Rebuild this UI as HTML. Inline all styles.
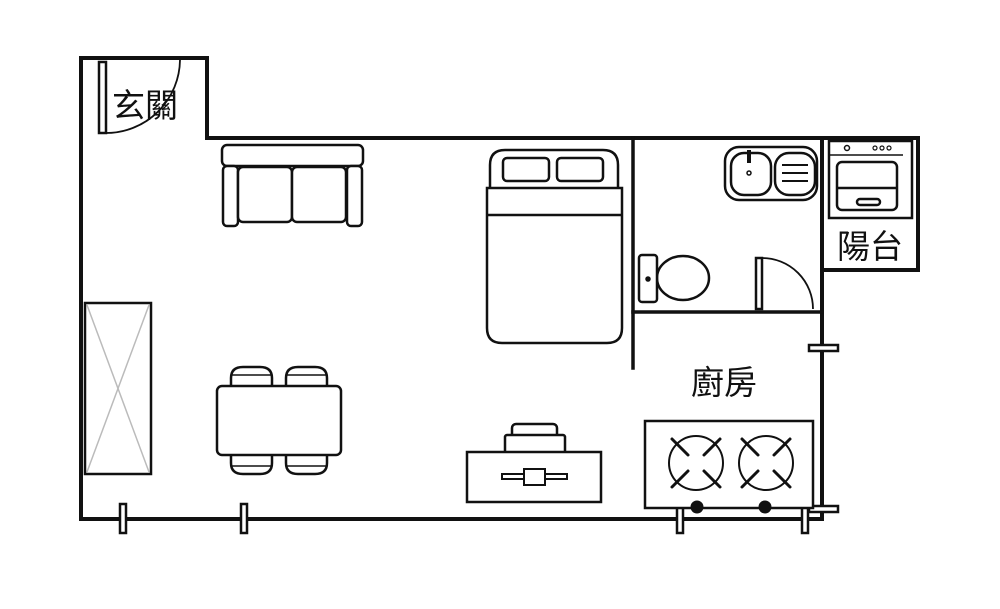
<!DOCTYPE html>
<html><head><meta charset="utf-8"><style>
html,body{margin:0;padding:0;background:#fff;width:1000px;height:609px;overflow:hidden}
text{font-family:"Liberation Sans","Noto Sans CJK TC",sans-serif;font-size:33px;fill:#111}
</style></head><body>
<svg width="1000" height="609" viewBox="0 0 1000 609" xmlns="http://www.w3.org/2000/svg">
<g fill="none" stroke="#111" stroke-width="4" stroke-linecap="square">
<polyline points="81,519 81,58 207,58 207,138 918,138 918,270 822,270"/>
<line x1="81" y1="519" x2="822" y2="519"/>
<line x1="822" y1="138" x2="822" y2="519"/>
<line x1="633" y1="138" x2="633" y2="368" stroke-width="3.5"/>
<line x1="633" y1="312" x2="822" y2="312" stroke-width="3.5"/>
</g>
<g fill="#fff" stroke="#111" stroke-width="2.5">
<rect x="120" y="504" width="6" height="29"/>
<rect x="241" y="504" width="6" height="29"/>
<rect x="677" y="504" width="6" height="29"/>
<rect x="802" y="504" width="6" height="29"/>
<rect x="809" y="345" width="29" height="6"/>
<rect x="809" y="506" width="29" height="6"/>
<rect x="99" y="62" width="7" height="71"/>
<path d="M106,133 A74,74 0 0 0 180,60" fill="none" stroke-width="1.8"/>
<rect x="222" y="145" width="141" height="21" rx="5"/>
<rect x="223" y="166" width="15" height="60" rx="4"/>
<rect x="347" y="166" width="15" height="60" rx="4"/>
<rect x="238" y="167" width="54" height="55" rx="5"/>
<rect x="292" y="167" width="54" height="55" rx="5"/>
<path d="M490,188 V165 Q490,150 505,150 H603 Q618,150 618,165 V188"/>
<rect x="503" y="158" width="46" height="23" rx="4"/>
<rect x="557" y="158" width="46" height="23" rx="4"/>
<path d="M487,188 H622 V328 Q622,343 607,343 H502 Q487,343 487,328 Z"/>
<line x1="487" y1="215" x2="622" y2="215"/>
<rect x="725" y="147" width="92" height="53" rx="14"/>
<rect x="731" y="153" width="40" height="42" rx="13"/>
<rect x="775" y="153" width="40" height="42" rx="14"/>
<line x1="749" y1="150" x2="749" y2="163" stroke-width="4"/>
<circle cx="749" cy="173" r="2" stroke-width="1.5"/>
<line x1="782" y1="165" x2="808" y2="165" stroke-width="2"/>
<line x1="782" y1="173" x2="808" y2="173" stroke-width="2"/>
<line x1="782" y1="181" x2="808" y2="181" stroke-width="2"/>
<ellipse cx="683" cy="278" rx="26" ry="22"/>
<rect x="639" y="255" width="18" height="47" rx="3"/>
<circle cx="648" cy="279" r="1.5" fill="#111"/>
<rect x="756" y="258" width="6" height="51"/>
<path d="M762,258 A51,51 0 0 1 813,309" fill="none" stroke-width="1.8"/>
<rect x="829" y="141" width="83" height="77"/>
<line x1="829" y1="155" x2="903" y2="155" stroke-width="1.5"/>
<circle cx="847" cy="148" r="2.5" stroke-width="1.5"/>
<circle cx="875" cy="148" r="2" stroke-width="1.2"/>
<circle cx="882" cy="148" r="2" stroke-width="1.2"/>
<circle cx="889" cy="148" r="2" stroke-width="1.2"/>
<rect x="837" y="162" width="60" height="48" rx="5"/>
<line x1="837" y1="188" x2="897" y2="188"/>
<rect x="857" y="199" width="23" height="6" rx="3"/>
<rect x="85" y="303" width="66" height="171"/>
<line x1="87" y1="305" x2="149" y2="472" stroke="#bbb" stroke-width="1.5"/>
<line x1="149" y1="305" x2="87" y2="472" stroke="#bbb" stroke-width="1.5"/>
<path d="M231,386 V378 Q231,367 243,367 H260 Q272,367 272,378 V386"/>
<path d="M286,386 V378 Q286,367 298,367 H315 Q327,367 327,378 V386"/>
<path d="M231,455 V463 Q231,474 243,474 H260 Q272,474 272,463 V455"/>
<path d="M286,455 V463 Q286,474 298,474 H315 Q327,474 327,463 V455"/>
<line x1="232" y1="375" x2="271" y2="375" stroke-width="1.5"/>
<line x1="287" y1="375" x2="326" y2="375" stroke-width="1.5"/>
<line x1="232" y1="466" x2="271" y2="466" stroke-width="1.5"/>
<line x1="287" y1="466" x2="326" y2="466" stroke-width="1.5"/>
<rect x="217" y="386" width="124" height="69" rx="5"/>
<rect x="512" y="424" width="45" height="14" rx="4"/>
<rect x="505" y="435" width="60" height="18" rx="2"/>
<rect x="467" y="452" width="134" height="50"/>
<rect x="502" y="474" width="65" height="5" stroke-width="2"/>
<rect x="524" y="469" width="21" height="16" stroke-width="2"/>
<rect x="645" y="421" width="168" height="87"/>
<circle cx="696" cy="463" r="27" stroke-width="2"/>
<circle cx="766" cy="463" r="27" stroke-width="2"/>
</g>
<g stroke="#111" stroke-width="3" stroke-linecap="round">
<line x1="672" y1="439" x2="688" y2="455"/><line x1="704" y1="455" x2="720" y2="439"/>
<line x1="672" y1="487" x2="688" y2="471"/><line x1="704" y1="471" x2="720" y2="487"/>
<line x1="742" y1="439" x2="758" y2="455"/><line x1="774" y1="455" x2="790" y2="439"/>
<line x1="742" y1="487" x2="758" y2="471"/><line x1="774" y1="471" x2="790" y2="487"/>
</g>
<circle cx="697" cy="507" r="6.5" fill="#111"/>
<circle cx="765" cy="507" r="6.5" fill="#111"/>
<text x="112" y="117">玄關</text>
<text x="837" y="258">陽台</text>
<text x="691" y="394">廚房</text>
</svg>
</body></html>
